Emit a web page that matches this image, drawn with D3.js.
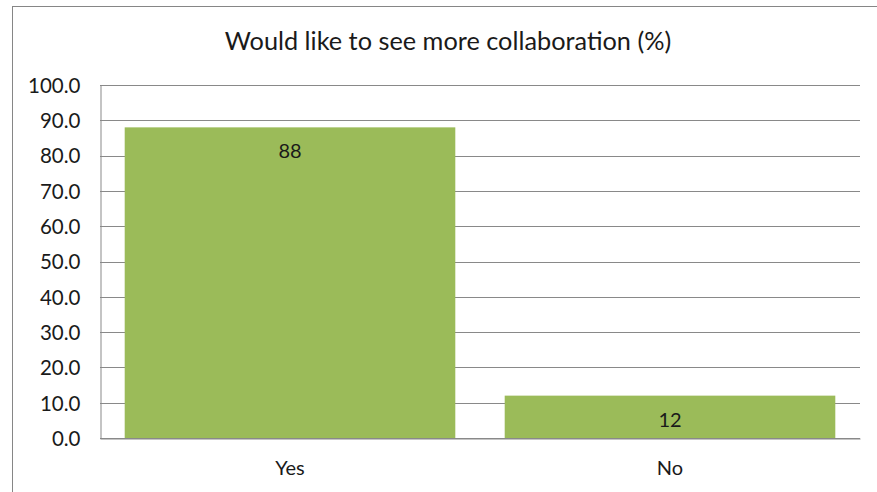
<!DOCTYPE html>
<html><head><meta charset="utf-8">
<script src="https://cdn.jsdelivr.net/npm/d3@7"></script>
<style>body{margin:0;background:#fff;}svg{display:block;font-family:Lato,"Open Sans",sans-serif;}</style>
</head><body>
<svg id="c" width="877" height="492"></svg>
<script>
const categories = ["Yes", "No"];
const values = [88, 12];
const tickValues = [0, 10, 20, 30, 40, 50, 60, 70, 80, 90, 100];
const title = "Would like to see more collaboration (%)";

const svg = d3.select("#c");
const W = 877, H = 492;
const m = {left: 100, top: 85, right: 860, bottom: 438};

svg.append("rect").attr("x", 12.5).attr("y", 6.5).attr("width", W).attr("height", H)
  .attr("fill", "#fff").attr("stroke", "#868686").attr("stroke-width", 1);

const x = d3.scaleBand().domain(categories).range([m.left, m.right])
  .paddingInner(0.13).paddingOuter(0.065);
const y = d3.scaleLinear().domain([0, 100]).range([m.bottom, m.top]);

// gridlines
svg.append("g").selectAll("line").data(tickValues).join("line")
  .attr("x1", m.left).attr("x2", m.right)
  .attr("y1", d => Math.round(y(d)) + 0.5).attr("y2", d => Math.round(y(d)) + 0.5)
  .attr("stroke", "#898989").attr("stroke-width", 1);

// y axis
const yAxis = d3.axisLeft(y).tickValues(tickValues).tickFormat(d3.format(".1f")).tickSize(0).tickPadding(20);
const ya = svg.append("g").attr("transform", `translate(${m.left + 0.5},0)`).call(yAxis);
ya.select(".domain").attr("stroke", "#898989");
ya.selectAll("text").attr("font-size", 20.5).attr("fill", "#1a1a1a").attr("font-family", "Lato, sans-serif").attr("dy", "0.36em");

// bars
svg.append("g").selectAll("rect").data(values).join("rect")
  .attr("x", (d, i) => x(categories[i])).attr("width", x.bandwidth())
  .attr("y", d => y(d)).attr("height", d => y(0) - y(d))
  .attr("fill", "#9BBB59");

// x axis
const xAxis = d3.axisBottom(x).tickSize(0).tickPadding(22);
const xa = svg.append("g").attr("transform", `translate(0,${m.bottom + 0.5})`).call(xAxis);
xa.select(".domain").attr("stroke", "#898989");
xa.selectAll("text").attr("font-size", 20).attr("fill", "#1a1a1a").attr("font-family", "Lato, sans-serif");

// data labels
svg.append("g").selectAll("text").data(values).join("text")
  .attr("x", (d, i) => x(categories[i]) + x.bandwidth() / 2)
  .attr("y", d => y(d) + 31)
  .attr("text-anchor", "middle").attr("font-size", 20).attr("fill", "#1a1a1a")
  .text(d => d);

svg.append("text").attr("x", 448).attr("y", 50).attr("text-anchor", "middle")
  .attr("font-size", 25.3).attr("fill", "#1a1a1a").text(title);
</script>
</body></html>
